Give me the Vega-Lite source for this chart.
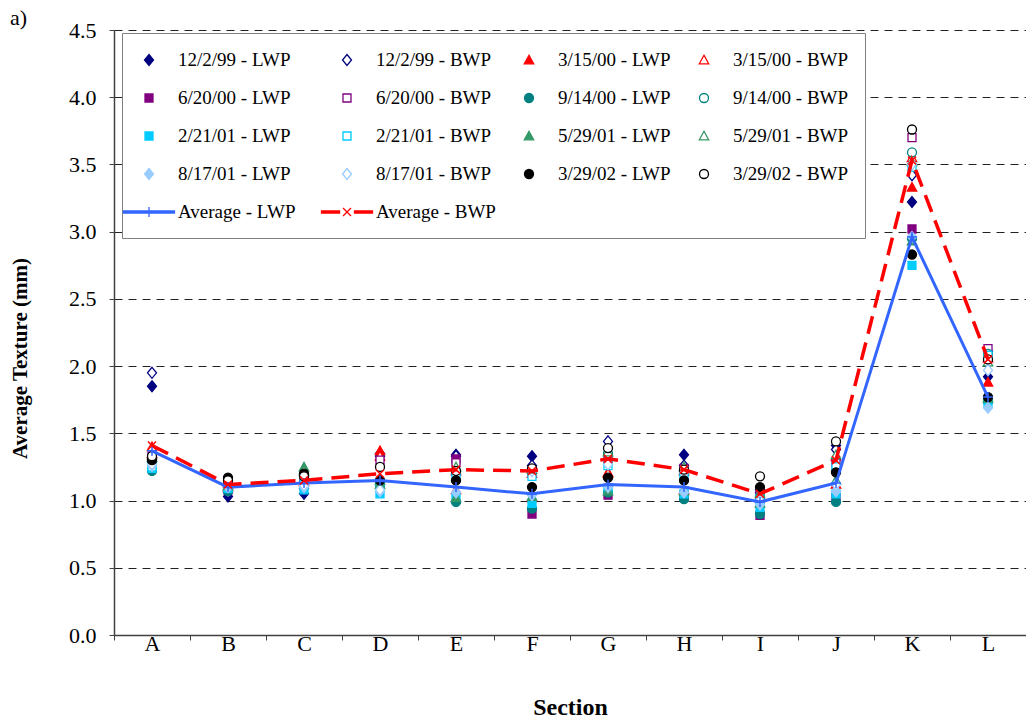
{
  "$schema": "https://vega.github.io/schema/vega-lite/v6.json",
  "width": 912,
  "height": 605,
  "autosize": {"type": "none"},
  "padding": {"left": 114, "top": 30, "right": 0, "bottom": 89},
  "background": "white",
  "title": {
    "text": "a)",
    "anchor": "start",
    "frame": "group",
    "dx": -104,
    "dy": 14,
    "offset": 3,
    "font": "Liberation Serif",
    "fontSize": 22,
    "fontWeight": "normal",
    "color": "black"
  },
  "data": {
    "values": [
      {"section": "A", "series": "12/2/99 - LWP", "texture": 1.85},
      {"section": "A", "series": "12/2/99 - BWP", "texture": 1.95},
      {"section": "A", "series": "3/15/00 - LWP", "texture": 1.35},
      {"section": "A", "series": "3/15/00 - BWP", "texture": 1.40},
      {"section": "A", "series": "6/20/00 - LWP", "texture": 1.30},
      {"section": "A", "series": "6/20/00 - BWP", "texture": 1.33},
      {"section": "A", "series": "9/14/00 - LWP", "texture": 1.22},
      {"section": "A", "series": "9/14/00 - BWP", "texture": 1.28},
      {"section": "A", "series": "2/21/01 - LWP", "texture": 1.24},
      {"section": "A", "series": "2/21/01 - BWP", "texture": 1.25},
      {"section": "A", "series": "5/29/01 - LWP", "texture": 1.32},
      {"section": "A", "series": "5/29/01 - BWP", "texture": 1.34},
      {"section": "A", "series": "8/17/01 - LWP", "texture": 1.26},
      {"section": "A", "series": "8/17/01 - BWP", "texture": 1.27},
      {"section": "A", "series": "3/29/02 - LWP", "texture": 1.30},
      {"section": "A", "series": "3/29/02 - BWP", "texture": 1.33},

      {"section": "B", "series": "12/2/99 - LWP", "texture": 1.03},
      {"section": "B", "series": "12/2/99 - BWP", "texture": 1.06},
      {"section": "B", "series": "3/15/00 - LWP", "texture": 1.10},
      {"section": "B", "series": "3/15/00 - BWP", "texture": 1.13},
      {"section": "B", "series": "6/20/00 - LWP", "texture": 1.08},
      {"section": "B", "series": "6/20/00 - BWP", "texture": 1.11},
      {"section": "B", "series": "9/14/00 - LWP", "texture": 1.07},
      {"section": "B", "series": "9/14/00 - BWP", "texture": 1.09},
      {"section": "B", "series": "2/21/01 - LWP", "texture": 1.09},
      {"section": "B", "series": "2/21/01 - BWP", "texture": 1.10},
      {"section": "B", "series": "5/29/01 - LWP", "texture": 1.11},
      {"section": "B", "series": "5/29/01 - BWP", "texture": 1.14},
      {"section": "B", "series": "8/17/01 - LWP", "texture": 1.10},
      {"section": "B", "series": "8/17/01 - BWP", "texture": 1.12},
      {"section": "B", "series": "3/29/02 - LWP", "texture": 1.17},
      {"section": "B", "series": "3/29/02 - BWP", "texture": 1.15},

      {"section": "C", "series": "12/2/99 - LWP", "texture": 1.05},
      {"section": "C", "series": "12/2/99 - BWP", "texture": 1.09},
      {"section": "C", "series": "3/15/00 - LWP", "texture": 1.14},
      {"section": "C", "series": "3/15/00 - BWP", "texture": 1.16},
      {"section": "C", "series": "6/20/00 - LWP", "texture": 1.12},
      {"section": "C", "series": "6/20/00 - BWP", "texture": 1.14},
      {"section": "C", "series": "9/14/00 - LWP", "texture": 1.18},
      {"section": "C", "series": "9/14/00 - BWP", "texture": 1.19},
      {"section": "C", "series": "2/21/01 - LWP", "texture": 1.08},
      {"section": "C", "series": "2/21/01 - BWP", "texture": 1.12},
      {"section": "C", "series": "5/29/01 - LWP", "texture": 1.25},
      {"section": "C", "series": "5/29/01 - BWP", "texture": 1.22},
      {"section": "C", "series": "8/17/01 - LWP", "texture": 1.10},
      {"section": "C", "series": "8/17/01 - BWP", "texture": 1.11},
      {"section": "C", "series": "3/29/02 - LWP", "texture": 1.20},
      {"section": "C", "series": "3/29/02 - BWP", "texture": 1.18},

      {"section": "D", "series": "12/2/99 - LWP", "texture": 1.35},
      {"section": "D", "series": "12/2/99 - BWP", "texture": 1.33},
      {"section": "D", "series": "3/15/00 - LWP", "texture": 1.37},
      {"section": "D", "series": "3/15/00 - BWP", "texture": 1.33},
      {"section": "D", "series": "6/20/00 - LWP", "texture": 1.10},
      {"section": "D", "series": "6/20/00 - BWP", "texture": 1.30},
      {"section": "D", "series": "9/14/00 - LWP", "texture": 1.08},
      {"section": "D", "series": "9/14/00 - BWP", "texture": 1.12},
      {"section": "D", "series": "2/21/01 - LWP", "texture": 1.05},
      {"section": "D", "series": "2/21/01 - BWP", "texture": 1.10},
      {"section": "D", "series": "5/29/01 - LWP", "texture": 1.12},
      {"section": "D", "series": "5/29/01 - BWP", "texture": 1.15},
      {"section": "D", "series": "8/17/01 - LWP", "texture": 1.07},
      {"section": "D", "series": "8/17/01 - BWP", "texture": 1.08},
      {"section": "D", "series": "3/29/02 - LWP", "texture": 1.15},
      {"section": "D", "series": "3/29/02 - BWP", "texture": 1.25},

      {"section": "E", "series": "12/2/99 - LWP", "texture": 1.34},
      {"section": "E", "series": "12/2/99 - BWP", "texture": 1.33},
      {"section": "E", "series": "3/15/00 - LWP", "texture": 1.08},
      {"section": "E", "series": "3/15/00 - BWP", "texture": 1.22},
      {"section": "E", "series": "6/20/00 - LWP", "texture": 1.31},
      {"section": "E", "series": "6/20/00 - BWP", "texture": 1.28},
      {"section": "E", "series": "9/14/00 - LWP", "texture": 0.99},
      {"section": "E", "series": "9/14/00 - BWP", "texture": 1.20},
      {"section": "E", "series": "2/21/01 - LWP", "texture": 1.03},
      {"section": "E", "series": "2/21/01 - BWP", "texture": 1.18},
      {"section": "E", "series": "5/29/01 - LWP", "texture": 1.02},
      {"section": "E", "series": "5/29/01 - BWP", "texture": 1.25},
      {"section": "E", "series": "8/17/01 - LWP", "texture": 1.06},
      {"section": "E", "series": "8/17/01 - BWP", "texture": 1.15},
      {"section": "E", "series": "3/29/02 - LWP", "texture": 1.15},
      {"section": "E", "series": "3/29/02 - BWP", "texture": 1.22},

      {"section": "F", "series": "12/2/99 - LWP", "texture": 1.33},
      {"section": "F", "series": "12/2/99 - BWP", "texture": 1.26},
      {"section": "F", "series": "3/15/00 - LWP", "texture": 1.02},
      {"section": "F", "series": "3/15/00 - BWP", "texture": 1.20},
      {"section": "F", "series": "6/20/00 - LWP", "texture": 0.90},
      {"section": "F", "series": "6/20/00 - BWP", "texture": 1.22},
      {"section": "F", "series": "9/14/00 - LWP", "texture": 0.94},
      {"section": "F", "series": "9/14/00 - BWP", "texture": 1.21},
      {"section": "F", "series": "2/21/01 - LWP", "texture": 0.98},
      {"section": "F", "series": "2/21/01 - BWP", "texture": 1.18},
      {"section": "F", "series": "5/29/01 - LWP", "texture": 1.03},
      {"section": "F", "series": "5/29/01 - BWP", "texture": 1.23},
      {"section": "F", "series": "8/17/01 - LWP", "texture": 1.04},
      {"section": "F", "series": "8/17/01 - BWP", "texture": 1.22},
      {"section": "F", "series": "3/29/02 - LWP", "texture": 1.10},
      {"section": "F", "series": "3/29/02 - BWP", "texture": 1.24},

      {"section": "G", "series": "12/2/99 - LWP", "texture": 1.10},
      {"section": "G", "series": "12/2/99 - BWP", "texture": 1.44},
      {"section": "G", "series": "3/15/00 - LWP", "texture": 1.21},
      {"section": "G", "series": "3/15/00 - BWP", "texture": 1.20},
      {"section": "G", "series": "6/20/00 - LWP", "texture": 1.04},
      {"section": "G", "series": "6/20/00 - BWP", "texture": 1.30},
      {"section": "G", "series": "9/14/00 - LWP", "texture": 1.06},
      {"section": "G", "series": "9/14/00 - BWP", "texture": 1.35},
      {"section": "G", "series": "2/21/01 - LWP", "texture": 1.08},
      {"section": "G", "series": "2/21/01 - BWP", "texture": 1.26},
      {"section": "G", "series": "5/29/01 - LWP", "texture": 1.07},
      {"section": "G", "series": "5/29/01 - BWP", "texture": 1.36},
      {"section": "G", "series": "8/17/01 - LWP", "texture": 1.10},
      {"section": "G", "series": "8/17/01 - BWP", "texture": 1.27},
      {"section": "G", "series": "3/29/02 - LWP", "texture": 1.17},
      {"section": "G", "series": "3/29/02 - BWP", "texture": 1.39},

      {"section": "H", "series": "12/2/99 - LWP", "texture": 1.34},
      {"section": "H", "series": "12/2/99 - BWP", "texture": 1.26},
      {"section": "H", "series": "3/15/00 - LWP", "texture": 1.08},
      {"section": "H", "series": "3/15/00 - BWP", "texture": 1.22},
      {"section": "H", "series": "6/20/00 - LWP", "texture": 1.04},
      {"section": "H", "series": "6/20/00 - BWP", "texture": 1.24},
      {"section": "H", "series": "9/14/00 - LWP", "texture": 1.01},
      {"section": "H", "series": "9/14/00 - BWP", "texture": 1.20},
      {"section": "H", "series": "2/21/01 - LWP", "texture": 1.05},
      {"section": "H", "series": "2/21/01 - BWP", "texture": 1.19},
      {"section": "H", "series": "5/29/01 - LWP", "texture": 1.07},
      {"section": "H", "series": "5/29/01 - BWP", "texture": 1.25},
      {"section": "H", "series": "8/17/01 - LWP", "texture": 1.06},
      {"section": "H", "series": "8/17/01 - BWP", "texture": 1.21},
      {"section": "H", "series": "3/29/02 - LWP", "texture": 1.15},
      {"section": "H", "series": "3/29/02 - BWP", "texture": 1.23},

      {"section": "I", "series": "12/2/99 - LWP", "texture": 1.08},
      {"section": "I", "series": "12/2/99 - BWP", "texture": 1.06},
      {"section": "I", "series": "3/15/00 - LWP", "texture": 1.03},
      {"section": "I", "series": "3/15/00 - BWP", "texture": 1.02},
      {"section": "I", "series": "6/20/00 - LWP", "texture": 0.89},
      {"section": "I", "series": "6/20/00 - BWP", "texture": 1.04},
      {"section": "I", "series": "9/14/00 - LWP", "texture": 0.90},
      {"section": "I", "series": "9/14/00 - BWP", "texture": 1.03},
      {"section": "I", "series": "2/21/01 - LWP", "texture": 0.95},
      {"section": "I", "series": "2/21/01 - BWP", "texture": 1.01},
      {"section": "I", "series": "5/29/01 - LWP", "texture": 0.98},
      {"section": "I", "series": "5/29/01 - BWP", "texture": 1.05},
      {"section": "I", "series": "8/17/01 - LWP", "texture": 0.97},
      {"section": "I", "series": "8/17/01 - BWP", "texture": 1.00},
      {"section": "I", "series": "3/29/02 - LWP", "texture": 1.10},
      {"section": "I", "series": "3/29/02 - BWP", "texture": 1.18},

      {"section": "J", "series": "12/2/99 - LWP", "texture": 1.41},
      {"section": "J", "series": "12/2/99 - BWP", "texture": 1.38},
      {"section": "J", "series": "3/15/00 - LWP", "texture": 1.12},
      {"section": "J", "series": "3/15/00 - BWP", "texture": 1.33},
      {"section": "J", "series": "6/20/00 - LWP", "texture": 1.02},
      {"section": "J", "series": "6/20/00 - BWP", "texture": 1.28},
      {"section": "J", "series": "9/14/00 - LWP", "texture": 0.99},
      {"section": "J", "series": "9/14/00 - BWP", "texture": 1.22},
      {"section": "J", "series": "2/21/01 - LWP", "texture": 1.05},
      {"section": "J", "series": "2/21/01 - BWP", "texture": 1.25},
      {"section": "J", "series": "5/29/01 - LWP", "texture": 1.15},
      {"section": "J", "series": "5/29/01 - BWP", "texture": 1.34},
      {"section": "J", "series": "8/17/01 - LWP", "texture": 1.07},
      {"section": "J", "series": "8/17/01 - BWP", "texture": 1.12},
      {"section": "J", "series": "3/29/02 - LWP", "texture": 1.21},
      {"section": "J", "series": "3/29/02 - BWP", "texture": 1.44},

      {"section": "K", "series": "12/2/99 - LWP", "texture": 3.22},
      {"section": "K", "series": "12/2/99 - BWP", "texture": 3.42},
      {"section": "K", "series": "3/15/00 - LWP", "texture": 3.33},
      {"section": "K", "series": "3/15/00 - BWP", "texture": 3.55},
      {"section": "K", "series": "6/20/00 - LWP", "texture": 3.02},
      {"section": "K", "series": "6/20/00 - BWP", "texture": 3.70},
      {"section": "K", "series": "9/14/00 - LWP", "texture": 2.95},
      {"section": "K", "series": "9/14/00 - BWP", "texture": 3.59},
      {"section": "K", "series": "2/21/01 - LWP", "texture": 2.75},
      {"section": "K", "series": "2/21/01 - BWP", "texture": 3.48},
      {"section": "K", "series": "5/29/01 - LWP", "texture": 2.93},
      {"section": "K", "series": "5/29/01 - BWP", "texture": 3.52},
      {"section": "K", "series": "8/17/01 - LWP", "texture": 2.96},
      {"section": "K", "series": "8/17/01 - BWP", "texture": 3.50},
      {"section": "K", "series": "3/29/02 - LWP", "texture": 2.83},
      {"section": "K", "series": "3/29/02 - BWP", "texture": 3.76},

      {"section": "L", "series": "12/2/99 - LWP", "texture": 1.92},
      {"section": "L", "series": "12/2/99 - BWP", "texture": 2.11},
      {"section": "L", "series": "3/15/00 - LWP", "texture": 1.88},
      {"section": "L", "series": "3/15/00 - BWP", "texture": 2.06},
      {"section": "L", "series": "6/20/00 - LWP", "texture": 1.75},
      {"section": "L", "series": "6/20/00 - BWP", "texture": 2.13},
      {"section": "L", "series": "9/14/00 - LWP", "texture": 1.74},
      {"section": "L", "series": "9/14/00 - BWP", "texture": 2.09},
      {"section": "L", "series": "2/21/01 - LWP", "texture": 1.72},
      {"section": "L", "series": "2/21/01 - BWP", "texture": 2.08},
      {"section": "L", "series": "5/29/01 - LWP", "texture": 1.76},
      {"section": "L", "series": "5/29/01 - BWP", "texture": 2.03},
      {"section": "L", "series": "8/17/01 - LWP", "texture": 1.69},
      {"section": "L", "series": "8/17/01 - BWP", "texture": 1.97},
      {"section": "L", "series": "3/29/02 - LWP", "texture": 1.77},
      {"section": "L", "series": "3/29/02 - BWP", "texture": 2.05},

      {"section": "A", "series": "Average - LWP", "texture": 1.37},
      {"section": "B", "series": "Average - LWP", "texture": 1.10},
      {"section": "C", "series": "Average - LWP", "texture": 1.13},
      {"section": "D", "series": "Average - LWP", "texture": 1.15},
      {"section": "E", "series": "Average - LWP", "texture": 1.10},
      {"section": "F", "series": "Average - LWP", "texture": 1.05},
      {"section": "G", "series": "Average - LWP", "texture": 1.12},
      {"section": "H", "series": "Average - LWP", "texture": 1.10},
      {"section": "I", "series": "Average - LWP", "texture": 0.99},
      {"section": "J", "series": "Average - LWP", "texture": 1.13},
      {"section": "K", "series": "Average - LWP", "texture": 2.96},
      {"section": "L", "series": "Average - LWP", "texture": 1.77},

      {"section": "A", "series": "Average - BWP", "texture": 1.41},
      {"section": "B", "series": "Average - BWP", "texture": 1.12},
      {"section": "C", "series": "Average - BWP", "texture": 1.15},
      {"section": "D", "series": "Average - BWP", "texture": 1.20},
      {"section": "E", "series": "Average - BWP", "texture": 1.23},
      {"section": "F", "series": "Average - BWP", "texture": 1.22},
      {"section": "G", "series": "Average - BWP", "texture": 1.31},
      {"section": "H", "series": "Average - BWP", "texture": 1.23},
      {"section": "I", "series": "Average - BWP", "texture": 1.05},
      {"section": "J", "series": "Average - BWP", "texture": 1.30},
      {"section": "K", "series": "Average - BWP", "texture": 3.53},
      {"section": "L", "series": "Average - BWP", "texture": 2.05}
    ]
  },
  "encoding": {
    "x": {
      "field": "section",
      "type": "nominal",
      "title": "Section",
      "scale": {"type": "band", "paddingInner": 0, "paddingOuter": 0},
      "axis": {
        "labelAngle": 0,
        "tickBand": "extent",
        "tickSize": 5,
        "labelPadding": -7,
        "titlePadding": 41,
        "titleFontSize": 24
      }
    },
    "y": {
      "field": "texture",
      "type": "quantitative",
      "title": "Average Texture (mm)",
      "scale": {"domain": [0, 4.5], "nice": false, "zero": true},
      "axis": {
        "values": [0, 0.5, 1, 1.5, 2, 2.5, 3, 3.5, 4, 4.5],
        "format": ".1f",
        "grid": true,
        "gridDash": [8, 6],
        "gridColor": "#222222",
        "gridWidth": 1,
        "tickSize": 5,
        "labelPadding": 13,
        "titlePadding": 38,
        "titleFontSize": 21,
        "titleY": 328
      }
    }
  },
  "layer": [
    {
      "transform": [
        {"filter": {"not": {"field": "series", "oneOf": ["Average - LWP", "Average - BWP"]}}}
      ],
      "mark": {"type": "point", "size": 400, "strokeWidth": 1.3, "opacity": 1, "filled": true},
      "encoding": {
        "fill": {
          "field": "series",
          "type": "nominal",
          "title": null,
          "legend": {"direction": "horizontal", "columns": 4, "labelFont": "Liberation Serif", "labelFontSize": 19},
          "scale": {
            "domain": ["12/2/99 - LWP", "12/2/99 - BWP", "3/15/00 - LWP", "3/15/00 - BWP", "6/20/00 - LWP", "6/20/00 - BWP", "9/14/00 - LWP", "9/14/00 - BWP", "2/21/01 - LWP", "2/21/01 - BWP", "5/29/01 - LWP", "5/29/01 - BWP", "8/17/01 - LWP", "8/17/01 - BWP", "3/29/02 - LWP", "3/29/02 - BWP", "Average - LWP", "Average - BWP"],
            "range": ["#000080", "white", "#FF0000", "white", "#800080", "white", "#008080", "white", "#00CCFF", "white", "#339966", "white", "#99CCFF", "white", "#000000", "white", "#3366FF", "#FF0000"]
          }
        },
        "stroke": {
          "field": "series",
          "type": "nominal",
          "title": null,
          "legend": {"direction": "horizontal", "columns": 4, "labelFont": "Liberation Serif", "labelFontSize": 19},
          "scale": {
            "domain": ["12/2/99 - LWP", "12/2/99 - BWP", "3/15/00 - LWP", "3/15/00 - BWP", "6/20/00 - LWP", "6/20/00 - BWP", "9/14/00 - LWP", "9/14/00 - BWP", "2/21/01 - LWP", "2/21/01 - BWP", "5/29/01 - LWP", "5/29/01 - BWP", "8/17/01 - LWP", "8/17/01 - BWP", "3/29/02 - LWP", "3/29/02 - BWP", "Average - LWP", "Average - BWP"],
            "range": ["#000080", "#000080", "#FF0000", "#FF0000", "#800080", "#800080", "#008080", "#008080", "#00CCFF", "#00CCFF", "#339966", "#339966", "#99CCFF", "#99CCFF", "#000000", "#000000", "#3366FF", "#FF0000"]
          }
        },
        "shape": {
          "field": "series",
          "type": "nominal",
          "title": null,
          "legend": {"direction": "horizontal", "columns": 4, "labelFont": "Liberation Serif", "labelFontSize": 19},
          "scale": {
            "domain": ["12/2/99 - LWP", "12/2/99 - BWP", "3/15/00 - LWP", "3/15/00 - BWP", "6/20/00 - LWP", "6/20/00 - BWP", "9/14/00 - LWP", "9/14/00 - BWP", "2/21/01 - LWP", "2/21/01 - BWP", "5/29/01 - LWP", "5/29/01 - BWP", "8/17/01 - LWP", "8/17/01 - BWP", "3/29/02 - LWP", "3/29/02 - BWP", "Average - LWP", "Average - BWP"],
            "range": [
              "M0,-0.55L0.45,0L0,0.55L-0.45,0Z",
              "M0,-0.55L0.45,0L0,0.55L-0.45,0Z",
              "M0,-0.47L0.47,0.38L-0.47,0.38Z",
              "M0,-0.47L0.47,0.38L-0.47,0.38Z",
              "M-0.4,-0.4L0.4,-0.4L0.4,0.4L-0.4,0.4Z",
              "M-0.4,-0.4L0.4,-0.4L0.4,0.4L-0.4,0.4Z",
              "M-0.45,0A0.45,0.45,0,1,1,0.45,0A0.45,0.45,0,1,1,-0.45,0Z",
              "M-0.45,0A0.45,0.45,0,1,1,0.45,0A0.45,0.45,0,1,1,-0.45,0Z",
              "M-0.4,-0.4L0.4,-0.4L0.4,0.4L-0.4,0.4Z",
              "M-0.4,-0.4L0.4,-0.4L0.4,0.4L-0.4,0.4Z",
              "M0,-0.47L0.47,0.38L-0.47,0.38Z",
              "M0,-0.47L0.47,0.38L-0.47,0.38Z",
              "M0,-0.55L0.45,0L0,0.55L-0.45,0Z",
              "M0,-0.55L0.45,0L0,0.55L-0.45,0Z",
              "M-0.45,0A0.45,0.45,0,1,1,0.45,0A0.45,0.45,0,1,1,-0.45,0Z",
              "M-0.45,0A0.45,0.45,0,1,1,0.45,0A0.45,0.45,0,1,1,-0.45,0Z",
              "M-2.55,-0.1L2.55,-0.1L2.55,0.1L-2.55,0.1ZM0,-0.5L0,0.5",
              "M-2.55,-0.1L-0.75,-0.1L-0.75,0.1L-2.55,0.1ZM0.75,-0.1L2.55,-0.1L2.55,0.1L0.75,0.1ZM-0.4,-0.4L0.4,0.4M-0.4,0.4L0.4,-0.4"
            ]
          }
        }
      }
    },
    {
      "transform": [{"filter": {"field": "series", "equal": "Average - LWP"}}],
      "mark": {"type": "line", "stroke": "#3366FF", "strokeWidth": 3}
    },
    {
      "transform": [{"filter": {"field": "series", "equal": "Average - BWP"}}],
      "mark": {"type": "line", "stroke": "#FF0000", "strokeWidth": 3.5, "strokeDash": [18, 9]}
    },
    {
      "transform": [{"filter": {"field": "series", "equal": "Average - LWP"}}],
      "mark": {"type": "point", "shape": "M-0.5,0L0.5,0M0,-0.5L0,0.5", "size": 400, "filled": false, "stroke": "#3366FF", "strokeWidth": 1.5, "opacity": 1}
    },
    {
      "transform": [{"filter": {"field": "series", "equal": "Average - BWP"}}],
      "mark": {"type": "point", "shape": "M-0.4,-0.4L0.4,0.4M-0.4,0.4L0.4,-0.4", "size": 400, "filled": false, "stroke": "#FF0000", "strokeWidth": 1.5, "opacity": 1}
    }
  ],
  "config": {
    "view": {"stroke": null},
    "font": "Liberation Serif",
    "style": {
      "guide-label": {"font": "Liberation Serif", "fill": "black"},
      "guide-title": {"font": "Liberation Serif", "fill": "black"}
    },
    "axis": {
      "labelFont": "Liberation Serif",
      "labelFontSize": 22,
      "labelColor": "black",
      "titleFont": "Liberation Serif",
      "titleFontSize": 22,
      "titleFontWeight": "bold",
      "titleColor": "black",
      "domainColor": "#404040",
      "domainWidth": 1.5,
      "tickColor": "#404040",
      "tickWidth": 1
    },
    "axisX": {"grid": false},
    "legend": {
      "orient": "none",
      "legendX": 8,
      "legendY": 3,
      "direction": "horizontal",
      "columns": 4,
      "padding": 16,
      "rowPadding": 17,
      "columnPadding": 22,
      "symbolSize": 400,
      "symbolStrokeWidth": 1.3,
      "labelOffset": 18,
      "labelFont": "Liberation Serif",
      "labelFontSize": 19,
      "labelColor": "black",
      "labelLimit": 250,
      "strokeColor": "#808080",
      "fillColor": "white"
    }
  }
}
